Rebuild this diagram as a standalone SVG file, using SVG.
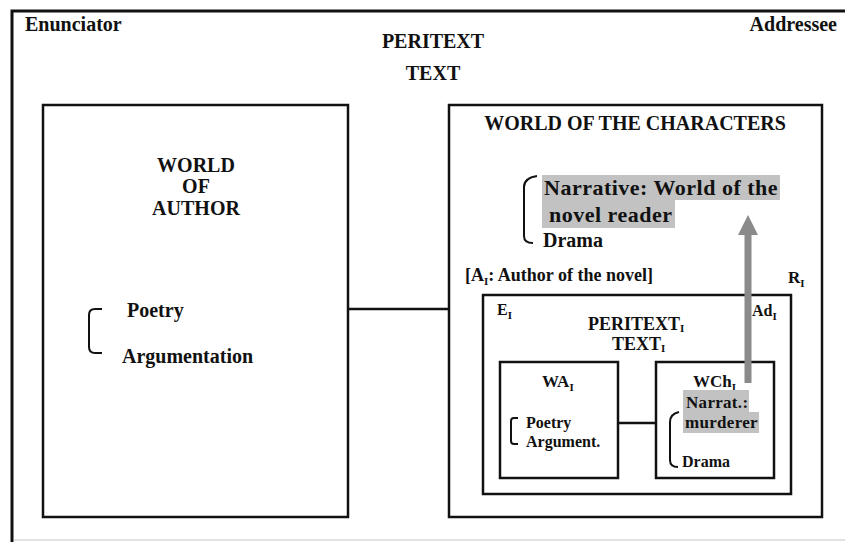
<svg xmlns="http://www.w3.org/2000/svg" width="845" height="542" viewBox="0 0 845 542">
  <style>
    text { font-family: "Liberation Serif", "Times New Roman", serif; font-weight: bold; fill: #111; }
    .f22 { font-size: 22px; letter-spacing: 0.5px; }
    .f20 { font-size: 20px; }
    .f18 { font-size: 18px; }
    .f17 { font-size: 17px; }
    .f16 { font-size: 16px; }
    .mid { text-anchor: middle; }
    .sub { font-size: 11px; }
    .box { fill: #fff; stroke: #111; stroke-width: 2.5; }
    .brk { fill: none; stroke: #111; stroke-width: 2; }
    .hl { fill: #c2c2c2; }
    .link { stroke: #111; stroke-width: 2.5; fill: none; }
    .flow { stroke: #8a8a8a; stroke-width: 7; fill: none; }
  </style>
  <defs>
    <marker id="head" markerUnits="userSpaceOnUse" markerWidth="22" markerHeight="20" refX="0" refY="10" orient="auto" viewBox="0 0 22 20">
      <polygon points="0,0 20,10 0,20" fill="#8a8a8a"/>
    </marker>
  </defs>

  <rect width="845" height="542" fill="#fff"/>

  <!-- outer frame -->
  <g id="frame">
    <path d="M12,542 V11 H850" fill="none" stroke="#111" stroke-width="3"/>
    <line x1="14" y1="540" x2="845" y2="540" stroke="#e2e2e2" stroke-width="2"/>
    <text class="f20" x="25" y="31">Enunciator</text>
    <text class="f20" x="837" y="31" text-anchor="end">Addressee</text>
    <text class="f20 mid" x="433" y="48">PERITEXT</text>
    <text class="f20 mid" x="433" y="80">TEXT</text>
  </g>

  <!-- world of the author -->
  <g id="world-author">
    <rect class="box" x="43" y="105" width="305" height="412"/>
    <text class="f20 mid" x="196" y="172">WORLD</text>
    <text class="f20 mid" x="196" y="193">OF</text>
    <text class="f20 mid" x="196" y="215">AUTHOR</text>
    <path class="brk" d="M102,309 H95 Q89,309 89,315 V347 Q89,353 95,353 H102"/>
    <text class="f20" x="127" y="317">Poetry</text>
    <text class="f20" x="122" y="363">Argumentation</text>
  </g>

  <!-- world of the characters -->
  <g id="world-characters">
    <rect class="box" x="449" y="105" width="373" height="412"/>
    <text class="f20 mid" x="635" y="130">WORLD OF THE CHARACTERS</text>
    <rect class="hl" x="542" y="175" width="238" height="25"/>
    <rect class="hl" x="542" y="200" width="133" height="28"/>
    <text class="f22" x="544" y="195">Narrative: World of the</text>
    <text class="f22" x="549" y="222">novel reader</text>
    <path class="brk" d="M537,176 Q524,178 524,187 V236 Q524,243 533,243"/>
    <text class="f20" x="543" y="247">Drama</text>
    <text class="f18" x="465" y="281">[A<tspan class="sub" dy="4">I</tspan><tspan dy="-4">: Author of the novel]</tspan></text>
    <text class="f17" x="788" y="283">R<tspan class="sub" dy="4">I</tspan></text>
  </g>

  <!-- embedded text level -->
  <g id="inner-text">
    <rect class="box" x="483" y="295" width="308" height="199"/>
    <text class="f16" x="497" y="315">E<tspan class="sub" dy="4">I</tspan></text>
    <text class="f16" x="752" y="316">Ad<tspan class="sub" dy="4">I</tspan></text>
    <text class="f18" x="588" y="330">PERITEXT<tspan class="sub" dy="2">I</tspan></text>
    <text class="f18" x="612" y="350">TEXT<tspan class="sub" dy="2">I</tspan></text>
  </g>

  <g id="inner-author">
    <rect class="box" x="500" y="362" width="118" height="116"/>
    <text class="f17" x="542" y="387">WA<tspan class="sub" dy="4">I</tspan></text>
    <path class="brk" d="M518,418 H514 Q511,418 511,421 V441 Q511,444 514,444 H518"/>
    <text class="f16" x="526" y="428">Poetry</text>
    <text class="f16" x="526" y="447">Argument.</text>
  </g>

  <g id="inner-characters">
    <rect class="box" x="656" y="362" width="118" height="116"/>
    <text class="f17" x="693" y="387">WCh<tspan class="sub" dy="4">I</tspan></text>
    <rect class="hl" x="683" y="390" width="66" height="22"/>
    <rect class="hl" x="683" y="412" width="76" height="21"/>
    <text class="f17" x="686" y="408" letter-spacing="0.3">Narrat.:</text>
    <text class="f17" x="685" y="428" letter-spacing="0.3">murderer</text>
    <path class="brk" d="M679,412 Q670,414 670,422 V460 Q670,467 678,467"/>
    <text class="f16" x="682" y="467">Drama</text>
  </g>

  <!-- connectors -->
  <g id="connectors">
    <line class="link" x1="348" y1="309" x2="449" y2="309"/>
    <line class="link" x1="618" y1="423" x2="656" y2="423"/>
    <line class="flow" x1="748" y1="383" x2="748" y2="235" marker-end="url(#head)"/>
  </g>
</svg>
